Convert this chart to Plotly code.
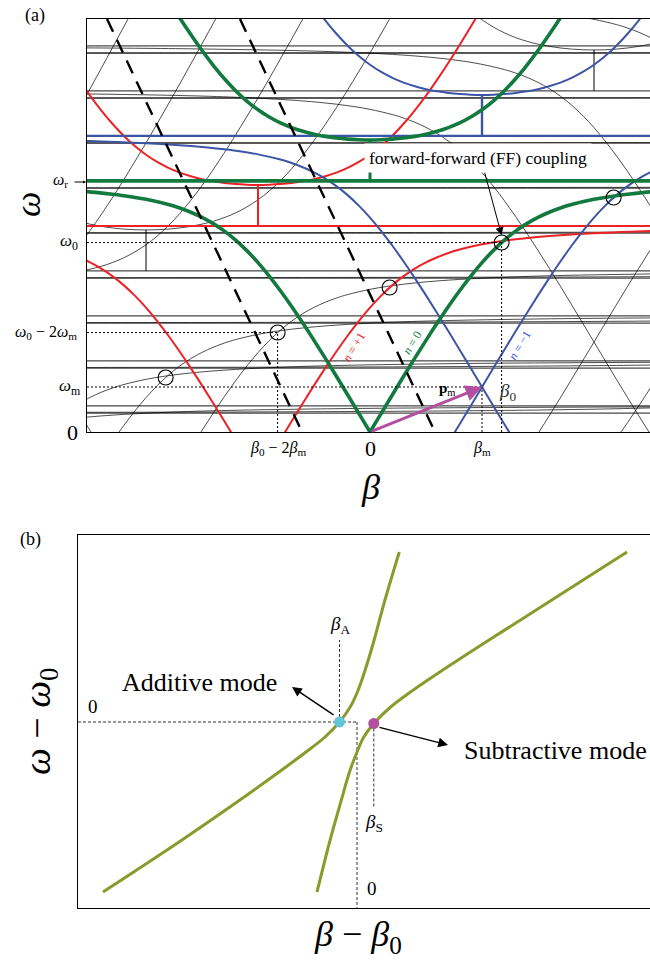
import plotly.graph_objects as go

W, H = 650, 963

# ---------------- panel (a): modulated-waveguide band diagram ----------------
# Unmodulated dispersion (units: beta_m for wavenumber, omega_m for frequency)
beta_tab = [0, 0.1, 0.2, 0.3, 0.4, 0.5, 0.6, 0.7, 0.8, 0.9, 1.0, 1.1, 1.2, 1.3, 1.4,
            1.5, 1.6, 1.7, 1.8, 2.0, 2.15, 2.3, 2.45, 2.6, 2.8, 3.0, 3.25, 3.5,
            4.0, 4.5, 5, 6, 7, 8, 9.5, 11, 14, 17]
omega_lower = [0, 0.415, 0.828, 1.238, 1.641, 2.036, 2.420, 2.789, 3.139, 3.465, 3.764,
               4.031, 4.264, 4.464, 4.631, 4.769, 4.883, 4.977, 5.054, 5.170, 5.235,
               5.285, 5.325, 5.357, 5.391, 5.418, 5.444, 5.465, 5.493, 5.512, 5.526,
               5.543, 5.554, 5.560, 5.566, 5.570, 5.574, 5.576]
beta_up = [0, 0.1, 0.2, 0.3, 0.4, 0.5, 0.6, 0.7, 0.8, 0.9, 1.0, 1.1, 1.2, 1.3, 1.4,
           1.5, 1.6, 1.7, 1.8, 2.0, 2.15, 2.3, 2.45, 2.6, 2.8, 3.0, 3.25, 3.5, 4.0, 4.5]
omega_upper = [6.490, 6.495, 6.509, 6.534, 6.570, 6.619, 6.683, 6.765, 6.870, 7.001,
               7.161, 7.355, 7.585, 7.850, 8.149, 8.477, 8.832, 9.207, 9.601, 10.426,
               11.071, 11.731, 12.402, 13.08, 13.998, 14.92, 16.09, 17.26, 19.63, 22.0]
omega_r = 5.58                      # resonance asymptote of the lower branch
beta0, omega0 = 1.175, 4.21         # operating point
orders_lower = list(range(-5, 5))   # space-time harmonics, positive-frequency lower branch
orders_upper = list(range(-5, 3))   # positive-frequency upper branch
orders_negative = list(range(1, 15))  # negative-frequency lower branch
gap_orders = [-2, -1, 0, 1, 2]
circle_shifts = [-3, -2, -1, 0, 1]
dash_a_beta = [-2.348, -0.607]
dash_b_beta = [-1.161, 0.580]
dash_omega = [9.178, 0.0]
xa_range = [-2.527, 2.5]
ya_range = [0.0, 9.178]

# ---------------- panel (b): anticrossing near (beta0, omega0) ----------------
b1_beta = [-2.54, -1.78, -1.20, -0.78, -0.51, -0.32, -0.175, -0.068, 0.004, 0.075, 0.166, 0.274, 0.423]
b1_omega = [-1.70, -1.20, -0.80, -0.50, -0.30, -0.15, 0.0, 0.15, 0.30, 0.50, 0.80, 1.20, 1.70]
b2_beta = [-0.40, -0.274, -0.162, -0.075, 0.0, 0.068, 0.168, 0.336, 0.535, 0.828, 1.289, 1.917, 2.70]
b2_omega = [-1.70, -1.20, -0.80, -0.50, -0.30, -0.15, -0.015, 0.15, 0.30, 0.50, 0.80, 1.20, 1.70]
beta_A, omega_A = -0.175, 0.0
beta_S, omega_S = 0.168, -0.015
xb_range = [-2.79, 2.93]
yb_range = [-1.86, 1.87]

GREEN = "#137a3f"
RED = "#ec2227"
BLUE = "#3c55a5"
MAGENTA = "#b34f9f"
OLIVE = "#8a9a2c"
CYAN = "#63c6d8"
SERIF = "Liberation Serif"

style = {0: (GREEN, 3.6), -1: (RED, 2.0), 1: (BLUE, 2.0)}
hstyle = {0: (GREEN, 3.6), -1: (RED, 2.0), 1: (BLUE, 2.4)}

fig = go.Figure()
black_traces, colour_traces = [], []


def line(x, y, color, width, dash=None, shape="spline", xa="x", ya="y"):
    return go.Scatter(x=x, y=y, mode="lines", xaxis=xa, yaxis=ya, hoverinfo="skip",
                      line=dict(color=color, width=width, dash=dash, shape=shape))


def add(k, tr):
    (colour_traces if k in style else black_traces).append(tr)


# positive-frequency lower branches (both sides of each vertex)
for k in orders_lower:
    col, w = style.get(k, ("black", 0.7))
    for s in (1, -1):
        add(k, line([k + s * b for b in beta_tab], [k + o for o in omega_lower], col, w))

# positive-frequency upper branches
for k in orders_upper:
    col, w = style.get(k, ("black", 0.7))
    xs = [k - b for b in beta_up[::-1]] + [k + b for b in beta_up[1:]]
    ys = [k + o for o in omega_upper[::-1]] + [k + o for o in omega_upper[1:]]
    add(k, line(xs, ys, col, w))

# negative-frequency lower branches
for k in orders_negative:
    col, w = style.get(k, ("black", 0.7))
    for s in (1, -1):
        add(k, line([k + s * b for b in beta_tab], [k - o for o in omega_lower], col, w))

# horizontal asymptotes
for k in orders_lower:
    col, w = hstyle.get(k, ("black", 0.9))
    add(k, line([-3, 3], [k + omega_r] * 2, col, w, shape="linear"))
for k in orders_negative:
    add(99, line([-3, 3], [k - omega_r] * 2, "black", 0.9, shape="linear"))

# band-gap markers
for k in gap_orders:
    col, _ = hstyle.get(k, ("black", 1.0))
    w = {0: 3.0, -1: 2.0, 1: 2.4}.get(k, 1.0)
    add(k, line([k, k], [k + omega_r, k + omega_upper[0]], col, w, shape="linear"))

for tr in black_traces:
    fig.add_trace(tr)
# colour order: red, blue, then green on top
for colour in (RED, BLUE, GREEN):
    for tr in colour_traces:
        if tr.line.color == colour:
            fig.add_trace(tr)

# dotted guide lines
dot = "2px,2px"
xl = xa_range[0]
fig.add_trace(line([xl, beta0], [omega0, omega0], "black", 1, dot, "linear"))
fig.add_trace(line([beta0, beta0], [0, omega0], "black", 1, dot, "linear"))
fig.add_trace(line([xl, beta0 - 2], [omega0 - 2, omega0 - 2], "black", 1, dot, "linear"))
fig.add_trace(line([beta0 - 2, beta0 - 2], [0, omega0 - 2], "black", 1, dot, "linear"))
fig.add_trace(line([xl, 1], [1, 1], "black", 1, dot, "linear"))
fig.add_trace(line([1, 1], [0, 1], "black", 1, dot, "linear"))

# modulation lines (dashed)
fig.add_trace(line(dash_a_beta, dash_omega, "black", 2.4, "14px,9px", "linear"))
fig.add_trace(line(dash_b_beta, dash_omega, "black", 2.4, "14px,9px", "linear"))

# phase-matched points
fig.add_trace(go.Scatter(x=[beta0 + j for j in circle_shifts],
                         y=[omega0 + j for j in circle_shifts],
                         mode="markers", hoverinfo="skip",
                         marker=dict(symbol="circle-open", size=15, color="black",
                                     line=dict(width=1.1, color="black"))))

# ---------------- panel (b) traces ----------------
dotb = "3px,2px"
fig.add_trace(line([xb_range[0], 0], [0, 0], "#333333", 1, dotb, "linear", "x2", "y2"))
fig.add_trace(line([0, 0], [0, yb_range[0]], "#333333", 1, dotb, "linear", "x2", "y2"))
fig.add_trace(line([beta_A, beta_A], [omega_A, 0.82], "#333333", 1, dotb, "linear", "x2", "y2"))
fig.add_trace(line([beta_S, beta_S], [omega_S, -0.86], "#333333", 1, dotb, "linear", "x2", "y2"))
fig.add_trace(line(b1_beta, b1_omega, OLIVE, 3, None, "spline", "x2", "y2"))
fig.add_trace(line(b2_beta, b2_omega, OLIVE, 3, None, "spline", "x2", "y2"))
fig.add_trace(go.Scatter(x=[beta_A], y=[omega_A], xaxis="x2", yaxis="y2", mode="markers",
                         hoverinfo="skip", marker=dict(size=11, color=CYAN)))
fig.add_trace(go.Scatter(x=[beta_S], y=[omega_S], xaxis="x2", yaxis="y2", mode="markers",
                         hoverinfo="skip", marker=dict(size=11, color=MAGENTA)))


def px(xp, yp):
    return xp / W, 1 - yp / H


ann = []


def text_px(xp, yp, txt, size, color="black", xanchor="center", angle=0, **kw):
    x, y = px(xp, yp)
    ann.append(dict(x=x, y=y, xref="paper", yref="paper", text=txt, showarrow=False,
                    xanchor=xanchor, yanchor="middle", textangle=angle,
                    font=dict(family=SERIF, size=size, color=color), **kw))


# panel labels
text_px(35, 15, "(a)", 18)
text_px(30, 539, "(b)", 18)

# panel (a) axis labels
text_px(28, 205, "<i>ω</i>", 36, angle=-90)
text_px(370, 487, "<i>β</i>", 36)
text_px(70, 181, "<i>ω</i><sub>r</sub>", 16, xanchor="right")
text_px(80, 242, "<i>ω</i><sub>0</sub>", 17, xanchor="right")
text_px(79, 333, "<i>ω</i><sub>0</sub> − 2<i>ω</i><sub>m</sub>", 16, xanchor="right")
text_px(83, 387, "<i>ω</i><sub>m</sub>", 17, xanchor="right")
text_px(72, 432, "0", 22)
text_px(278, 448, "<i>β</i><sub>0</sub> − 2<i>β</i><sub>m</sub>", 16)
text_px(370, 448, "0", 22)
text_px(482, 448, "<i>β</i><sub>m</sub>", 16)

# small arrow next to omega_r
xa, ya = px(86, 182)
ann.append(dict(x=xa, y=ya, xref="paper", yref="paper", ax=-13, ay=0, text="",
                showarrow=True, arrowhead=2, arrowsize=0.6, arrowwidth=1, arrowcolor="black"))

# order labels along the branches
ann.append(dict(x=-0.143, y=1.89, xref="x", yref="y", text="<i>n</i> = +1", showarrow=False,
                textangle=-59, font=dict(family=SERIF, size=12, color=RED)))
ann.append(dict(x=0.375, y=1.98, xref="x", yref="y", text="<i>n</i> = 0", showarrow=False,
                textangle=-59, font=dict(family=SERIF, size=12, color=GREEN)))
ann.append(dict(x=1.339, y=1.93, xref="x", yref="y", text="<i>n</i> = −1", showarrow=False,
                textangle=-59, font=dict(family=SERIF, size=12, color="#3b4fe0")))

# modulation vector
ann.append(dict(x=1, y=1, xref="x", yref="y", ax=0, ay=0, axref="x", ayref="y", text="",
                showarrow=True, arrowhead=2, arrowsize=1.1, arrowwidth=3, arrowcolor=MAGENTA))
ann.append(dict(x=0.69, y=0.95, xref="x", yref="y", text="<b>p</b><sub>m</sub>",
                showarrow=False, font=dict(family=SERIF, size=15, color="black")))
ann.append(dict(x=1.232, y=0.89, xref="x", yref="y", text="<i>β</i><sub>0</sub>",
                showarrow=False, font=dict(family=SERIF, size=19, color="#333333")))

# FF coupling callout
ann.append(dict(x=beta0, y=omega0 + 0.16, xref="x", yref="y", ax=1.02, ay=5.8,
                axref="x", ayref="y", text="", showarrow=True, arrowhead=2,
                arrowsize=1.6, arrowwidth=1, arrowcolor="black"))
ann.append(dict(x=0.964, y=6.09, xref="x", yref="y", text="forward-forward (FF) coupling",
                showarrow=False, bgcolor="white", borderpad=4,
                font=dict(family=SERIF, size=17.5, color="black")))

# ---------------- panel (b) annotations ----------------
text_px(40, 722, "<i>ω</i> − <i>ω</i><sub>0</sub>", 38, angle=-90)
text_px(358, 936, "<i>β</i> − <i>β</i><sub>0</sub>", 36)
text_px(93, 706, "0", 19)
text_px(372, 888, "0", 19)
text_px(340, 625, "<i>β</i><sub>A</sub>", 19)
text_px(374, 823, "<i>β</i><sub>S</sub>", 19)
text_px(120, 682, "Additive mode", 26, xanchor="left")
text_px(462, 750, "Subtractive mode", 26, xanchor="left")
ann.append(dict(x=-0.65, y=0.35, xref="x2", yref="y2", ax=-0.22, ay=0.06, axref="x2",
                ayref="y2", text="", showarrow=True, arrowhead=2, arrowsize=1.3,
                arrowwidth=1.5, arrowcolor="black"))
ann.append(dict(x=0.91, y=-0.23, xref="x2", yref="y2", ax=0.21, ay=-0.05, axref="x2",
                ayref="y2", text="", showarrow=True, arrowhead=2, arrowsize=1.3,
                arrowwidth=1.5, arrowcolor="black"))

axis_common = dict(showgrid=False, zeroline=False, showticklabels=False, ticks="",
                   showline=True, linecolor="black", linewidth=1)

fig.update_layout(
    width=W, height=H, margin=dict(l=0, r=0, t=0, b=0),
    paper_bgcolor="white", plot_bgcolor="white", showlegend=False,
    font=dict(family=SERIF, color="black"),
    xaxis=dict(domain=[87 / W, 1], range=xa_range, mirror=True, **axis_common),
    yaxis=dict(domain=[1 - 432 / H, 1 - 19 / H], range=ya_range, mirror=False, **axis_common),
    xaxis2=dict(domain=[78 / W, 1], range=xb_range, mirror=True, anchor="y2", **axis_common),
    yaxis2=dict(domain=[1 - 908 / H, 1 - 535 / H], range=yb_range, mirror=False,
                anchor="x2", **axis_common),
    annotations=ann,
)

fig.write_html("out.html")
